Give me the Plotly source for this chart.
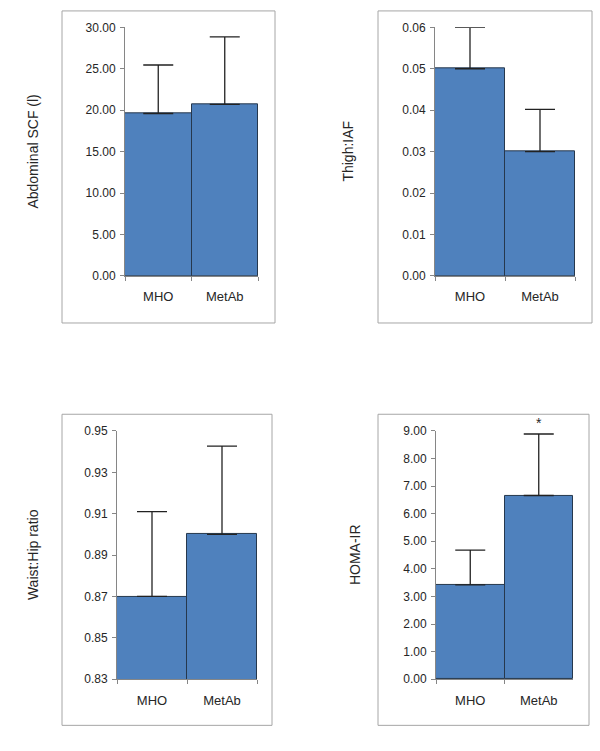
import plotly.graph_objects as go

categories = ["MHO", "MetAb"]

abd_scf_mean = [19.6, 20.7]
abd_scf_sd = [5.85, 8.15]

thigh_iaf_mean = [0.05, 0.03]
thigh_iaf_sd = [0.01, 0.0102]

whr_mean = [0.87, 0.90]
whr_sd = [0.041, 0.0427]

homa_mean = [3.42, 6.66]
homa_sd = [1.26, 2.23]

panels = [
    dict(mean=abd_scf_mean, sd=abd_scf_sd, title="Abdominal SCF (l)", yrange=[0, 30], dtick=5, fmt=".2f",
         xd=[125, 258], yd=[20.7, 274], frame=[62, 4, 275, 322], tx=33),
    dict(mean=thigh_iaf_mean, sd=thigh_iaf_sd, title="Thigh:IAF", yrange=[0, 0.06], dtick=0.01, fmt=".2f",
         xd=[435, 575], yd=[20.7, 274], frame=[378, 4, 592, 322], tx=348),
    dict(mean=whr_mean, sd=whr_sd, title="Waist:Hip ratio", yrange=[0.83, 0.95], dtick=0.02, fmt=".2f",
         xd=[117, 257], yd=[432, 685], frame=[62, 415, 272, 732], tx=33),
    dict(mean=homa_mean, sd=homa_sd, title="HOMA-IR", yrange=[0, 9], dtick=1, fmt=".2f",
         xd=[436, 573], yd=[432, 685], frame=[378, 415, 589, 732], tx=355),
]

W, H = 600, 751
FONT = "Liberation Sans, Arial, sans-serif"
BAR = "#4F81BD"
AXIS = "#868686"
TXT = "#262626"

fig = go.Figure()
shapes = []
annotations = []

for i, p in enumerate(panels, start=1):
    xa = "x" if i == 1 else f"x{i}"
    ya = "y" if i == 1 else f"y{i}"
    fig.add_trace(go.Bar(
        x=categories, y=p["mean"], xaxis=xa, yaxis=ya,
        marker=dict(color=BAR, line=dict(color="#26384d", width=1)),
        error_y=dict(type="data", array=p["sd"], arrayminus=[0, 0], symmetric=False,
                     color="#222222", thickness=1.3, width=15),
        showlegend=False, hoverinfo="skip",
    ))
    xk = "xaxis" if i == 1 else f"xaxis{i}"
    yk = "yaxis" if i == 1 else f"yaxis{i}"
    fig.layout[xk] = dict(
        domain=[p["xd"][0] / W, p["xd"][1] / W], anchor=ya, type="category",
        tickson="boundaries", ticks="outside", ticklen=4, tickcolor=AXIS,
        showline=True, linecolor=AXIS, linewidth=1, showgrid=False,
        tickfont=dict(family=FONT, size=13, color=TXT), ticklabelstandoff=9,
        fixedrange=True,
    )
    fig.layout[yk] = dict(
        domain=[1 - p["yd"][1] / H, 1 - p["yd"][0] / H], anchor=xa,
        range=p["yrange"], dtick=p["dtick"], tick0=p["yrange"][0], tickformat=p["fmt"],
        ticks="outside", ticklen=4, tickcolor=AXIS,
        showline=True, linecolor=AXIS, linewidth=1, showgrid=False, zeroline=False,
        tickfont=dict(family=FONT, size=12, color=TXT), ticklabelstandoff=2,
        fixedrange=True,
    )
    fx0, fy0, fx1, fy1 = p["frame"]
    shapes.append(dict(type="rect", xref="paper", yref="paper",
                       x0=fx0 / W, x1=fx1 / W, y0=1 - fy1 / H, y1=1 - fy0 / H,
                       line=dict(color="#A6A6A6", width=1), fillcolor="rgba(0,0,0,0)", layer="below"))
    annotations.append(dict(
        text=p["title"], textangle=-90, xref="paper", yref="paper",
        x=p["tx"] / W, y=1 - (p["yd"][0] + p["yd"][1]) / 2 / H,
        showarrow=False, font=dict(family=FONT, size=14, color=TXT),
        xanchor="center", yanchor="middle",
    ))

annotations.append(dict(text="*", xref="x4", yref="paper", x="MetAb", y=1 - 424 / H,
                        showarrow=False, font=dict(family=FONT, size=14, color=TXT),
                        xanchor="center", yanchor="middle"))

fig.update_layout(
    width=W, height=H, margin=dict(l=0, r=0, t=0, b=0),
    paper_bgcolor="white", plot_bgcolor="white",
    bargap=0, shapes=shapes, annotations=annotations,
)

fig.write_html("out.html", config={"displayModeBar": False},
               post_script="document.body.style.margin='0';")
